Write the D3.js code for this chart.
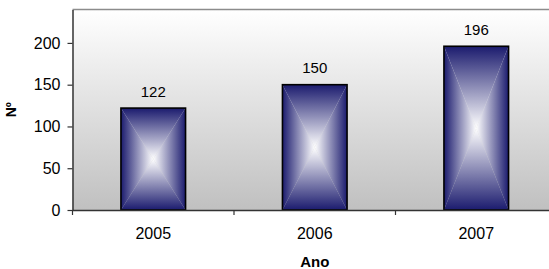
<!DOCTYPE html>
<html>
<head>
<meta charset="utf-8">
<script src="https://cdnjs.cloudflare.com/ajax/libs/d3/7.8.5/d3.min.js"></script>
<style>
  body { margin: 0; background: #fff; font-family: "Liberation Sans", Arial, Helvetica, sans-serif; }
  svg { display: block; }
</style>
</head>
<body>
<div id="chart"></div>
<script>
// data
var years = ["2005", "2006", "2007"];
var counts = [122, 150, 196];
var yTicks = [0, 50, 100, 150, 200];

var W = 549, H = 269;
var margin = {top: 9.5, right: -8, bottom: 59, left: 72.5};
var width = W - margin.left - margin.right,
    height = H - margin.top - margin.bottom;

var svg = d3.select("#chart").append("svg")
    .attr("width", W)
    .attr("height", H);

var defs = svg.append("defs");

// plot background: white -> grey
var bg = defs.append("linearGradient")
    .attr("id", "bg").attr("x1", 0).attr("y1", 0).attr("x2", 0).attr("y2", 1);
bg.append("stop").attr("offset", "0%").attr("stop-color", "#ffffff");
bg.append("stop").attr("offset", "100%").attr("stop-color", "#c0c0c0");

var g = svg.append("g")
    .attr("transform", "translate(" + margin.left + "," + margin.top + ")");

var x = d3.scaleBand()
    .domain(years)
    .range([0, width])
    .padding(0);

var y = d3.scaleLinear()
    .domain([0, 240])
    .range([height, 0]);

g.append("rect")
    .attr("width", width)
    .attr("height", height)
    .attr("fill", "url(#bg)");

// top border of plot area
g.append("line")
    .attr("x1", 0).attr("x2", width)
    .attr("y1", 0).attr("y2", 0)
    .attr("stroke", "#8c8c8c")
    .attr("stroke-width", 1.5);

// bars with a "from center" box gradient, built out of 4 triangles
var edge = "#1b1b6e", mid = "#ffffff";
var barW = x.bandwidth() * 0.4;

function grad(id, x1, y1, x2, y2) {
  var lg = defs.append("linearGradient")
      .attr("id", id)
      .attr("gradientUnits", "userSpaceOnUse")
      .attr("x1", x1).attr("y1", y1).attr("x2", x2).attr("y2", y2);
  lg.append("stop").attr("offset", "0%").attr("stop-color", edge);
  lg.append("stop").attr("offset", "100%").attr("stop-color", mid);
  return "url(#" + id + ")";
}

var bars = g.append("g");
years.forEach(function(yr, i) {
  var x0 = x(yr) + (x.bandwidth() - barW) / 2,
      x1 = x0 + barW,
      y0 = y(counts[i]),
      y1 = y(0),
      cx = (x0 + x1) / 2,
      cy = (y0 + y1) / 2;
  var b = bars.append("g");
  b.append("polygon")
      .attr("points", [[x0, y0], [cx, cy], [x0, y1]].join(" "))
      .attr("fill", grad("l" + i, x0, 0, cx, 0));
  b.append("polygon")
      .attr("points", [[x1, y0], [cx, cy], [x1, y1]].join(" "))
      .attr("fill", grad("r" + i, x1, 0, cx, 0));
  b.append("polygon")
      .attr("points", [[x0, y0], [x1, y0], [cx, cy]].join(" "))
      .attr("fill", grad("t" + i, 0, y0, 0, cy));
  b.append("polygon")
      .attr("points", [[x0, y1], [x1, y1], [cx, cy]].join(" "))
      .attr("fill", grad("b" + i, 0, y1, 0, cy));
  b.append("rect")
      .attr("x", x0).attr("y", y0)
      .attr("width", barW).attr("height", y1 - y0)
      .attr("fill", "none")
      .attr("stroke", "#000")
      .attr("stroke-width", 1.6);
});

// value labels
g.selectAll(".val")
    .data(counts)
    .enter().append("text")
    .attr("class", "val")
    .attr("x", function(d, i) { return x(years[i]) + x.bandwidth() / 2; })
    .attr("y", function(d) { return y(d) - 11.5; })
    .attr("text-anchor", "middle")
    .attr("font-size", "15px")
    .attr("fill", "#000")
    .text(function(d) { return d; });

// y axis
var yAxis = g.append("g")
    .call(d3.axisLeft(y).tickValues(yTicks).tickSize(5).tickPadding(7).tickSizeOuter(0));
yAxis.select(".domain").attr("stroke", "#333").attr("stroke-width", 1.5);
yAxis.selectAll(".tick line").attr("stroke", "#333").attr("stroke-width", 1.2);
yAxis.selectAll("text").attr("font-size", "16px").attr("fill", "#000")
    .attr("font-family", "Liberation Sans, Arial, sans-serif");

// x axis: labels at band centres, tick marks at band edges
var xAxis = g.append("g")
    .attr("transform", "translate(0," + height + ")")
    .call(d3.axisBottom(x).tickSize(0).tickPadding(18).tickSizeOuter(0));
xAxis.select(".domain").attr("stroke", "#333").attr("stroke-width", 1.5);
xAxis.selectAll("text").attr("font-size", "16px").attr("fill", "#000")
    .attr("font-family", "Liberation Sans, Arial, sans-serif");
xAxis.selectAll(".edge")
    .data([0].concat(years.map(function(d) { return x(d) + x.bandwidth(); })))
    .enter().append("line")
    .attr("class", "edge")
    .attr("x1", function(d) { return d; }).attr("x2", function(d) { return d; })
    .attr("y1", 0).attr("y2", 5)
    .attr("stroke", "#333")
    .attr("stroke-width", 1.2);

// axis titles
svg.append("text")
    .attr("transform", "translate(16," + (margin.top + height / 2) + ") rotate(-90)")
    .attr("text-anchor", "middle")
    .attr("font-size", "14px")
    .attr("font-weight", "bold")
    .text("Nº");

svg.append("text")
    .attr("x", margin.left + width / 2)
    .attr("y", 267)
    .attr("text-anchor", "middle")
    .attr("font-size", "15px")
    .attr("font-weight", "bold")
    .text("Ano");
</script>
</body>
</html>
